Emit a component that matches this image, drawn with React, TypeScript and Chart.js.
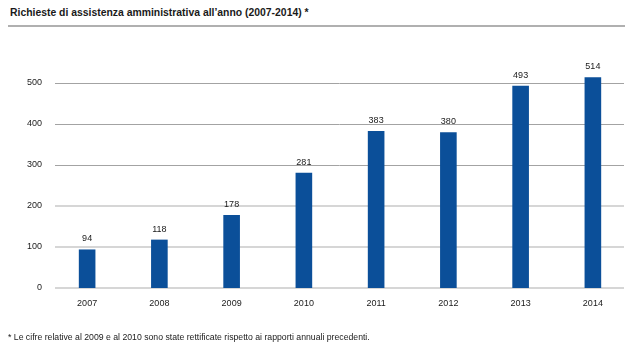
import React, { useEffect, useRef } from "react";
import { Chart, registerables } from "chart.js";

Chart.register(...registerables);

const years = ["2007", "2008", "2009", "2010", "2011", "2012", "2013", "2014"];
const requests = [94, 118, 178, 281, 383, 380, 493, 514];
const yTicks = [0, 100, 200, 300, 400, 500];

const TITLE = "Richieste di assistenza amministrativa all\u2019anno (2007-2014) *";
const NOTE = "* Le cifre relative al 2009 e al 2010 sono state rettificate rispetto ai rapporti annuali precedenti.";

const FONT = "'Liberation Sans', Arial, sans-serif";

const gridPlugin = {
  id: "customGrid",
  beforeDatasetsDraw(chart: any) {
    const { ctx, chartArea, scales } = chart;
    const y = scales.y;
    const x0 = chartArea.left + 4;
    const x1 = chartArea.right - 5;
    ctx.save();
    yTicks.forEach((v) => {
      const py = Math.round(y.getPixelForValue(v));
      if (v <= 200) {
        ctx.strokeStyle = "#d6d6d6";
        ctx.lineWidth = 2;
        ctx.beginPath();
        ctx.moveTo(x0, py);
        ctx.lineTo(x1, py);
        ctx.stroke();
      } else {
        ctx.strokeStyle = "#a3a3a3";
        ctx.lineWidth = 1;
        ctx.beginPath();
        ctx.moveTo(x0, py + 0.5);
        ctx.lineTo(x1, py + 0.5);
        ctx.stroke();
      }
    });
    ctx.restore();
  },
};

const labelPlugin = {
  id: "valueLabels",
  afterDatasetsDraw(chart: any) {
    const { ctx } = chart;
    const meta = chart.getDatasetMeta(0);
    ctx.save();
    ctx.fillStyle = "#1a1a1a";
    ctx.font = `9px ${FONT}`;
    ctx.textAlign = "center";
    ctx.textBaseline = "bottom";
    meta.data.forEach((bar: any, i: number) => {
      ctx.fillText(String(requests[i]), bar.x, bar.y - 6);
    });
    ctx.restore();
  },
};

export default function App() {
  const ref = useRef<HTMLCanvasElement>(null);

  useEffect(() => {
    if (!ref.current) return;
    const chart = new Chart(ref.current, {
      type: "bar",
      data: {
        labels: years,
        datasets: [
          {
            data: requests,
            backgroundColor: "#0b4f99",
            borderWidth: 0,
            categoryPercentage: 1,
            barPercentage: 0.23,
            clip: false,
          },
        ],
      },
      options: {
        animation: false,
        responsive: false,
        maintainAspectRatio: false,
        layout: { padding: { left: 0, right: 11, top: 83, bottom: 0 } },
        plugins: {
          legend: { display: false },
          tooltip: { enabled: false },
          title: { display: false },
        },
        scales: {
          x: {
            grid: { display: false, drawTicks: false },
            border: { display: false },
            ticks: {
              color: "#1a1a1a",
              font: { family: FONT, size: 9 },
              padding: 10,
            },
            afterFit(scale: any) {
              scale.height = 67;
            },
          },
          y: {
            min: 0,
            max: 500,
            grid: { display: false, drawTicks: false },
            border: { display: false },
            ticks: {
              stepSize: 100,
              color: "#1a1a1a",
              font: { family: FONT, size: 9 },
              padding: 9,
            },
            afterFit(scale: any) {
              scale.width = 51;
            },
          },
        },
      },
      plugins: [gridPlugin, labelPlugin],
    });
    return () => chart.destroy();
  }, []);

  return (
    <div style={{ position: "absolute", left: 0, top: 0, width: 640, height: 355, background: "#fff", fontFamily: FONT }}>
      <div
        style={{
          position: "absolute",
          left: 10,
          top: 7,
          fontSize: 10.4,
          fontWeight: "bold",
          color: "#1a1a1a",
          whiteSpace: "nowrap",
        }}
      >
        {TITLE}
      </div>
      <div style={{ position: "absolute", left: 8, top: 25, width: 617, height: 2, background: "#b0b0b0" }} />
      <canvas ref={ref} width={640} height={355} style={{ position: "absolute", left: 0, top: 0 }} />
      <div
        style={{
          position: "absolute",
          left: 8,
          top: 332,
          fontSize: 8.7,
          color: "#1a1a1a",
          whiteSpace: "nowrap",
        }}
      >
        {NOTE}
      </div>
    </div>
  );
}
